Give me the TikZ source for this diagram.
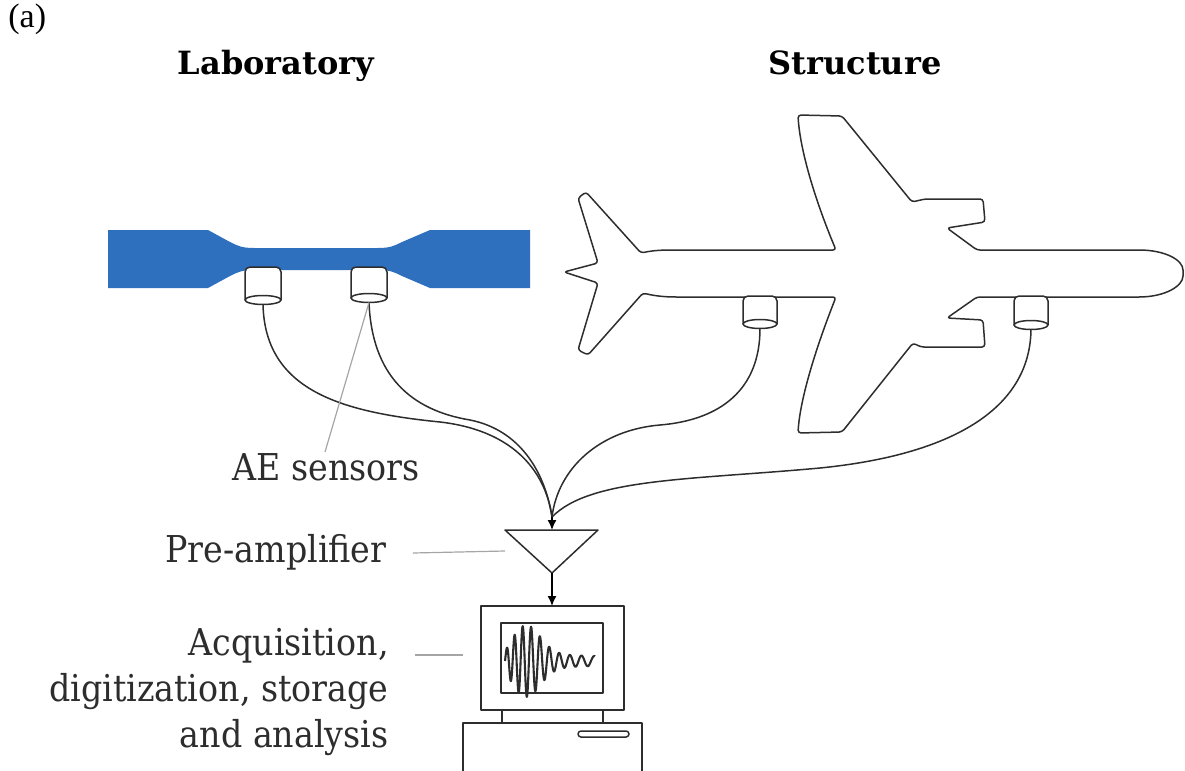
\documentclass[tikz,border=0pt]{standalone}
\usepackage{fontspec}
\newfontfamily\lblfont{DejaVu Serif}[FakeStretch=0.9]
\newfontfamily\ttlfont{DejaVu Serif}
\newfontfamily\tagfont{Liberation Serif}
\usetikzlibrary{arrows.meta}
\definecolor{specblue}{RGB}{46,112,189}
\definecolor{ink}{RGB}{45,45,45}
\definecolor{leader}{RGB}{165,165,165}

% AE sensor: name, centre x, top y, bottom y, half width
\newcommand\aesensor[5]{%
  \draw[outline, fill=white, rounded corners=2.5pt]
    ({#2-#5},#4) -- ({#2-#5},#3) -- ({#2+#5},#3) -- ({#2+#5},#4);
  \draw[outline, fill=white] (#2,#4) ellipse [x radius=#5, y radius=4.5];
  \coordinate (#1) at (#2,{#4+4.5});
}

\begin{document}
\begin{tikzpicture}[x=0.5pt,y=-0.5pt,
  outline/.style={draw=ink, line width=0.75pt, line join=round},
  cable/.style={draw=ink, line width=0.75pt},
  leaderline/.style={draw=leader, line width=0.6pt},
  lbl/.style={font=\lblfont\fontsize{18.5}{23}\selectfont, text=ink, inner sep=0pt},
  ttl/.style={font=\ttlfont\bfseries\fontsize{16}{20}\selectfont, text=black, inner sep=0pt},
  tip/.style={-{Latex[length=5pt,width=4.5pt]}, draw=black, line width=0.75pt}
]
\useasboundingbox (0,0) rectangle (1185,771);

% ---------- headings ----------
\node[font=\tagfont\fontsize{17}{20}\selectfont, inner sep=0pt, anchor=base west] (tag) at (8,27) {(a)};
\node[ttl, anchor=base] (lab) at (276,75) {Laboratory};
\node[ttl, anchor=base] (str) at (855,74) {Structure};

% ---------- tensile specimen ----------
\fill[specblue] (108,230) -- (208,230) -- (230,242)
  .. controls (238,246) and (242,248) .. (254,248) -- (378,248)
  .. controls (390,248) and (394,246) .. (402,242) -- (430,230) -- (530,230)
  -- (530,288) -- (430,288) -- (402,276)
  .. controls (394,272) and (390,270) .. (378,270) -- (254,270)
  .. controls (242,270) and (238,272) .. (230,276) -- (208,288) -- (108,288) -- cycle;

\aesensor{s1}{263}{267}{300}{18}
\aesensor{s2}{369}{267}{298}{18}

% ---------- aircraft outline ----------
\draw[outline, rounded corners=1.5pt]
  (641,253) .. controls (655,250) and (665,250) .. (679,250) -- (836,250)
  .. controls (815,200) and (800,150) .. (798,115) -- (842,116) -- (912,202)
  -- (925,199) -- (983,199) -- (985,222) -- (947,228) -- (977,250)
  -- (1136,250) .. controls (1165,250) and (1183,260) .. (1183,273)
  .. controls (1183,286) and (1165,297) .. (1136,297)
  -- (977,297) -- (947,318) -- (983,320) -- (985,347) -- (921,347) -- (913,343)
  -- (842,432) -- (798,433) .. controls (800,400) and (815,350) .. (836,297)
  -- (679,297) .. controls (665,297) and (655,296) .. (643,293)
  -- (588,355) -- (578,350) -- (598,283) -- (564,272) -- (598,263)
  -- (578,198) -- (586,192) -- cycle;

\aesensor{s3}{760}{296}{324}{17}
\aesensor{s4}{1031}{296}{325}{17}

% ---------- cables to the pre-amplifier ----------
\coordinate (hub) at (552,517);
\draw[cable] (s1) .. controls (265,390) and (340,412) .. (440,422)
  .. controls (510,430) and (545,468) .. (hub);
\draw[cable] (s2) .. controls (372,375) and (410,410) .. (470,420)
  .. controls (520,430) and (545,472) .. (hub);
\draw[cable] (s3) .. controls (760,390) and (720,420) .. (660,425)
  .. controls (600,430) and (558,468) .. (hub);
\draw[cable] (s4) .. controls (1030,410) and (950,455) .. (820,468)
  .. controls (690,480) and (590,478) .. (hub);

% ---------- pre-amplifier ----------
\coordinate (ampL) at (505,530);
\coordinate (ampR) at (598,530);
\coordinate (ampO) at (552,573);
\coordinate (ampIn) at (552,530);
\draw[outline] (ampL) -- (ampR) -- (ampO) -- cycle;
\draw[tip] (hub) -- (ampIn);

% ---------- computer ----------
\coordinate (monTop) at (552,606);
\draw[outline] (481,606) rectangle (624,710);
\draw[outline] (501,623) rectangle (603,693);
\draw[outline] (502,710) -- (502,723);
\draw[outline] (603,710) -- (603,723);
\draw[outline] (463,790) -- (463,723) -- (642,723) -- (642,790);
\draw[outline, rounded corners=1.5pt] (578,731) rectangle (629,737);
\draw[tip] (ampO) -- (monTop);

% recorded AE hit on the screen
\draw[ink, line width=1.05pt, line join=round]
  plot[domain=0:90, samples=450, variable=\u]
  ({505+\u}, {661 - (29*exp(-((\u-21)/20)*((\u-21)/20)) + 9*(1-exp(-\u/10))*exp(-\u/150))*sin(48*\u-0.12*\u*\u)});

% ---------- labels ----------
\node[lbl, anchor=base] (aelbl) at (326,480) {AE sensors};
\draw[leaderline] (s2) -- (325,452);

\node[lbl, anchor=base] (amplbl) at (276,562) {Pre-amplifier};
\draw[leaderline] (413,553) -- (ampL |- 0,551);

\node[lbl, anchor=base east, align=right] (daqlbl) at (389,747)
  {Acquisition,\\digitization, storage\\and analysis};
\draw[leaderline] (415,655) -- (463,655);
\end{tikzpicture}
\end{document}
